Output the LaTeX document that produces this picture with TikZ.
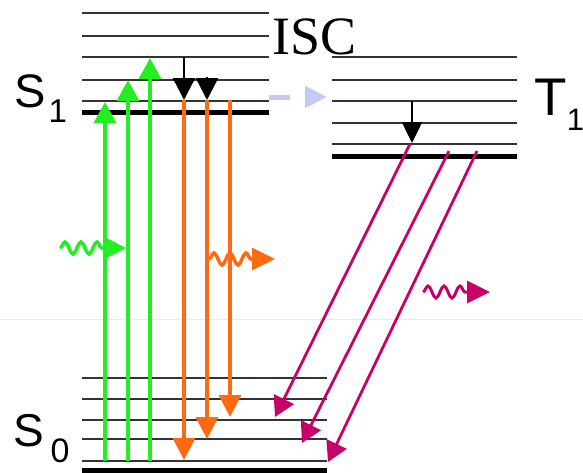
\documentclass[tikz,border=0pt]{standalone}
\usepackage{fontspec}
\setmainfont{Liberation Serif}
\setsansfont{Liberation Sans}
\usetikzlibrary{arrows.meta,decorations.pathmorphing}
\definecolor{lvl}{HTML}{333333}
\definecolor{absg}{HTML}{22EE22}
\definecolor{flo}{HTML}{FF6A10}
\definecolor{pho}{HTML}{C8006A}
\definecolor{iscc}{HTML}{C8C8F8}
\definecolor{seam}{HTML}{E6EAF2}
\begin{document}
\begin{tikzpicture}[x=1pt,y=-1pt,
  thinlvl/.style={lvl,line width=1.5},
  thicklvl/.style={black,line width=5},
  lbl/.style={inner sep=0,anchor=base west,font=\sffamily},
  absarr/.style={absg,line width=3.5,-{Triangle[length=21pt,width=22pt]}},
  floarr/.style={flo,line width=3.5,-{Triangle[length=22pt,width=22pt]}},
  phoarr/.style={pho,line width=2.8,-{Triangle[length=20pt,width=22pt]}},
  relax/.style={black,line width=2.5,-{Triangle[length=22pt,width=22pt]}},
  wave/.style={line width=3.5,decorate,decoration={snake,amplitude=6,segment length=16,post length=22}},
]
\useasboundingbox (0,0) rectangle (583,472);
% faint seam
\draw[seam,line width=1] (0,319) -- (583,319);
% S1 manifold
\foreach \y in {13,36,57,80,101} \draw[thinlvl] (82,\y) -- (269,\y);
\draw[thicklvl] (82,112) -- (269,112);
% T1 manifold
\foreach \y in {57,80,101,123,144} \draw[thinlvl] (332,\y) -- (517,\y);
\draw[thicklvl] (332,156) -- (517,156);
% S0 manifold
\foreach \y in {378,399,420,439,461} \draw[thinlvl] (82,\y) -- (327,\y);
\draw[thicklvl] (82,470.5) -- (327,470.5);
% labels
\node[lbl,font=\sffamily\fontsize{47}{50}\selectfont] (s1) at (14.5,107) {S};
\node[lbl,font=\sffamily\fontsize{33}{36}\selectfont] (s1sub) at (48.5,122) {1};
\node[lbl,font=\sffamily\fontsize{46}{50}\selectfont] (s0) at (13.7,446) {S};
\node[lbl,font=\sffamily\fontsize{34}{36}\selectfont] (s0sub) at (50.5,462) {0};
\node[lbl,font=\sffamily\fontsize{53}{56}\selectfont] (t1) at (534,115) {T};
\node[lbl,font=\sffamily\fontsize{31}{34}\selectfont] (t1sub) at (566.6,130) {1};
\node[lbl,font=\rmfamily\fontsize{54}{58}\selectfont] (isc) at (272,54) {ISC};
% coordinates
\coordinate (g1a) at (105,461); \coordinate (g1b) at (105,102);
\coordinate (g2a) at (128,461); \coordinate (g2b) at (128,80);
\coordinate (g3a) at (150,461); \coordinate (g3b) at (150,58);
\coordinate (o1a) at (184,100); \coordinate (o1b) at (184,460);
\coordinate (o2a) at (207,100); \coordinate (o2b) at (207,439);
\coordinate (o3a) at (230,100); \coordinate (o3b) at (230,417);
\coordinate (k1a) at (184,57); \coordinate (k1b) at (184,100);
\coordinate (k2a) at (207,77); \coordinate (k2b) at (207,100);
\coordinate (k3a) at (412,101); \coordinate (k3b) at (412,143);
\coordinate (p1a) at (410,144); \coordinate (p1b) at (275,417);
\coordinate (p2a) at (449,151); \coordinate (p2b) at (302,443);
\coordinate (p3a) at (477,151); \coordinate (p3b) at (328,462);
\coordinate (isca) at (269,97); \coordinate (iscb) at (327,97);
\coordinate (gwa) at (60,248); \coordinate (gwb) at (126,248);
\coordinate (owa) at (209,259); \coordinate (owb) at (275,259);
\coordinate (pwa) at (423,292); \coordinate (pwb) at (490,292);
% absorption
\draw[absarr] (g1a) -- (g1b);
\draw[absarr] (g2a) -- (g2b);
\draw[absarr] (g3a) -- (g3b);
% fluorescence
\draw[floarr] (o1a) -- (o1b);
\draw[floarr] (o2a) -- (o2b);
\draw[floarr] (o3a) -- (o3b);
% vibrational relaxation
\draw[relax] (k1a) -- (k1b);
\draw[relax] (k2a) -- (k2b);
\draw[relax,-{Triangle[length=21pt,width=20pt]}] (k3a) -- (k3b);
% phosphorescence
\draw[phoarr] (p1a) -- (p1b);
\draw[phoarr] (p2a) -- (p2b);
\draw[phoarr] (p3a) -- (p3b);
% ISC
\draw[iscc,line width=5,dash pattern=on 21pt off 15pt,-{Triangle[length=22pt,width=21pt]}] (isca) -- (iscb);
% photons
\draw[wave,absg,-{Triangle[length=23pt,width=23pt]}] (gwa) -- (gwb);
\draw[wave,flo,-{Triangle[length=23pt,width=22pt]}] (owa) -- (owb);
\draw[wave,pho,line width=3,-{Triangle[length=23pt,width=22pt]}] (pwa) -- (pwb);
\end{tikzpicture}
\end{document}
